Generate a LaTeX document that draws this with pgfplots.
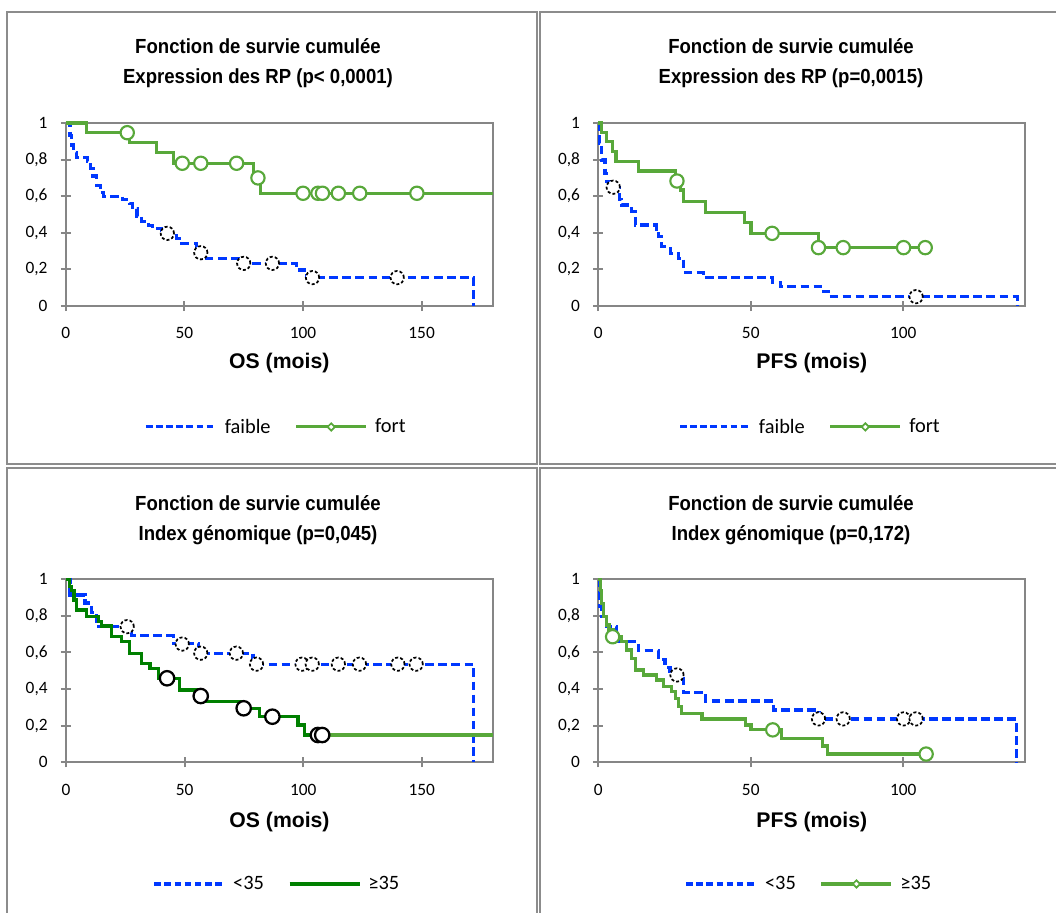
\documentclass[border=0pt]{standalone}
\usepackage{pgfplots}
\pgfplotsset{compat=1.18}
\usetikzlibrary{shapes.geometric}
\usepackage{fontspec}
\setmainfont{Carlito}
\newfontfamily\titlefont[FakeStretch=0.91]{Liberation Sans}
\newfontfamily\arialfont{Liberation Sans}
\definecolor{axgray}{RGB}{134,134,134}
\definecolor{bordergray}{RGB}{140,140,140}
\definecolor{blueC}{RGB}{0,56,255}
\definecolor{greenC}{RGB}{88,168,58}
\definecolor{dgreenC}{RGB}{0,128,0}

\pgfplotsset{
  km/.style={
    scale only axis, width=320.25pt, height=137.25pt,
    xmin=0, ymin=0, ymax=1,
    ytick={0,0.2,0.4,0.6,0.8,1},
    axis line style={draw=axgray, line width=1.5pt},
    every tick/.style={draw=axgray, line width=1.5pt},
    major tick length=7.5pt, tick align=center, tick pos=left,
    clip=false,
    /pgf/number format/use comma,
    /pgf/number format/fixed,
    /pgf/number format/assume math mode=true,
    tick label style={font=\fontsize{13}{15}\selectfont},
    yticklabel style={xshift=-6.5pt},
    xticklabel style={yshift=-9pt},
    xlabel style={font=\arialfont\bfseries\fontsize{15.9}{18}\selectfont, anchor=center},
    legend columns=2,
    legend style={draw=none, fill=none, font=\fontsize{15.3}{18}\selectfont, anchor=center,
      /tikz/every even column/.append style={column sep=16pt}},
  },
  bluestep/.style={const plot, blueC, line width=2.4pt, dash pattern=on 6.5pt off 3.3pt,
    legend image code/.code={\draw[##1, dash pattern=on 5pt off 2.6pt, line width=2.3pt] (0pt,0pt)--(52.5pt,0pt); \path (56pt,0pt);}},
  greenstep/.style={const plot, greenC, line width=2.4pt,
    legend image code/.code={\draw[##1, line width=2.3pt] (0pt,0pt)--(52.5pt,0pt);
      \node[diamond, draw=greenC, fill=white, line width=1.3pt, inner sep=0pt, minimum width=6pt, minimum height=6pt, solid] at (26.25pt,0pt) {}; \path (56pt,0pt);}},
  dgreenstep/.style={const plot, dgreenC, line width=2.4pt,
    legend image code/.code={\draw[##1, line width=2.3pt] (0pt,0pt)--(52.5pt,0pt); \path (56pt,0pt);}},
  bluecens/.style={only marks, mark=*, mark size=5pt, forget plot,
    mark options={draw=black, fill=white, line width=1.3pt, dash pattern=on 2.2pt off 1.6pt}},
  greencens/.style={only marks, mark=*, mark size=5pt, forget plot,
    mark options={draw=greenC, fill=white, line width=1.6pt, solid}},
  blackcens/.style={only marks, mark=*, mark size=5.4pt, forget plot,
    mark options={draw=black, fill=white, line width=1.7pt, solid}},
}

\begin{document}
\begin{tikzpicture}
\useasboundingbox (0pt,0pt) rectangle (792pt,-684.75pt);
\clip (0pt,0pt) rectangle (792pt,-684.75pt);

% panel borders
\draw[bordergray, line width=1.5pt] (5.5pt,-8.8pt) rectangle (402.5pt,-348.2pt);
\draw[bordergray, line width=1.5pt] (405pt,-8.8pt) rectangle (795pt,-348.2pt);
\draw[bordergray, line width=1.5pt] (5.5pt,-350.8pt) rectangle (402.5pt,-690pt);
\draw[bordergray, line width=1.5pt] (405pt,-350.8pt) rectangle (795pt,-690pt);

% ---------- top left ----------
\begin{axis}[km, at={(49.35pt,-229.5pt)}, anchor=south west,
  xmax=180, xtick={0,50,100,150},
  xlabel={OS (mois)}, xlabel style={at={(axis description cs:0.5,-0.312)}},
  legend style={at={(0.493,-0.661)}}]
\addplot[bluestep] coordinates {(0,1)(1.8,0.93)(2.5,0.88)(3.2,0.84)(4.5,0.81)(9,0.79)(10.5,0.75)(11.5,0.71)(13,0.66)(14.5,0.62)(16,0.60)(24,0.58)(27,0.56)(28,0.53)(30,0.49)(32,0.46)(35,0.44)(36.5,0.424)(40.4,0.397)(46.7,0.37)(48.8,0.343)(55,0.32)(57,0.29)(59.3,0.26)(73.4,0.233)(97.2,0.197)(101.5,0.155)(171.9,0)};
\addlegendentry{faible}
\addplot[greenstep] coordinates {(0,1)(8.8,0.947)(26.8,0.892)(38.3,0.838)(45.3,0.78)(79,0.70)(82,0.616)(180,0.616)};
\addlegendentry{fort}
\addplot[bluecens] coordinates {(42.8,0.397)(56.9,0.291)(75,0.233)(87.1,0.233)(104,0.155)(139.7,0.155)};
\addplot[greencens] coordinates {(25.9,0.947)(49.1,0.78)(56.9,0.78)(72,0.78)(81,0.70)(100,0.616)(106.3,0.616)(108.2,0.616)(114.9,0.616)(123.9,0.616)(148,0.616)};
\end{axis}

% ---------- top right ----------
\begin{axis}[km, at={(448.7pt,-229.5pt)}, anchor=south west,
  xmax=140, xtick={0,50,100},
  xlabel={PFS (mois)}, xlabel style={at={(axis description cs:0.5,-0.312)}},
  legend style={at={(0.497,-0.661)}}]
\addplot[bluestep] coordinates {(0,1)(0.3,0.889)(1.1,0.798)(2.2,0.725)(2.8,0.679)(3.5,0.649)(6.9,0.583)(7.7,0.552)(11,0.515)(12.1,0.443)(19.2,0.419)(19.8,0.38)(20.8,0.324)(23.6,0.288)(26.3,0.26)(28,0.182)(34.5,0.155)(57,0.13)(59.8,0.106)(72.9,0.08)(75.6,0.051)(137.4,0)};
\addlegendentry{faible}
\addplot[greenstep] coordinates {(0,1)(1.1,0.947)(2.8,0.898)(4.7,0.843)(5.8,0.789)(13.2,0.738)(25.2,0.683)(26.9,0.634)(28,0.57)(35.1,0.512)(48,0.455)(50.1,0.397)(72.2,0.319)(107.2,0.319)};
\addlegendentry{fort}
\addplot[bluecens] coordinates {(4.9,0.649)(104.2,0.051)};
\addplot[greencens] coordinates {(25.8,0.683)(57,0.397)(72.2,0.319)(80.3,0.319)(100.1,0.319)(107.2,0.319)};
\end{axis}

% ---------- bottom left ----------
\begin{axis}[km, at={(49.5pt,-571.7pt)}, anchor=south west,
  xmax=180, xtick={0,50,100,150},
  xlabel={OS (mois)}, xlabel style={at={(axis description cs:0.5,-0.327)}},
  legend style={at={(0.495,-0.665)}}]
\addplot[bluestep] coordinates {(0,1)(1.7,0.914)(8,0.87)(10.8,0.82)(12.9,0.741)(27.6,0.692)(45.2,0.65)(55.7,0.596)(78.8,0.536)(171.7,0)};
\addlegendentry{<35}
\addplot[dgreenstep] coordinates {(0,1)(1.5,0.96)(2.4,0.94)(3.4,0.887)(4.5,0.832)(8.7,0.796)(13.6,0.768)(15,0.745)(19.2,0.686)(23.4,0.659)(26.9,0.596)(31.9,0.541)(35.4,0.514)(38.9,0.459)(48,0.395)(56.5,0.362)(57.8,0.331)(73.9,0.295)(81.7,0.249)(97.8,0.204)(100.6,0.149)(108,0.149)};
\addlegendentry{≥35}
\addplot[greenC, line width=2.4pt, forget plot] coordinates {(108,0.149)(180,0.149)};
\addplot[bluecens] coordinates {(25.8,0.741)(49,0.646)(56.8,0.596)(71.8,0.596)(80.3,0.536)(99.5,0.536)(103.8,0.536)(114.8,0.536)(123.7,0.536)(139.9,0.536)(147.6,0.536)};
\addplot[blackcens] coordinates {(42.6,0.459)(56.8,0.362)(74.9,0.295)(87,0.249)(106.2,0.149)(108,0.149)};
\end{axis}

% ---------- bottom right ----------
\begin{axis}[km, at={(448.7pt,-571.7pt)}, anchor=south west,
  xmax=140, xtick={0,50,100},
  xlabel={PFS (mois)}, xlabel style={at={(axis description cs:0.5,-0.327)}},
  legend style={at={(0.494,-0.665)}}]
\addplot[bluestep] coordinates {(0,1)(0.3,0.85)(1.1,0.796)(2.8,0.741)(5.9,0.659)(13.2,0.61)(19.7,0.563)(21.9,0.519)(23.5,0.477)(28,0.383)(35.1,0.335)(57.4,0.286)(72.4,0.237)(137.1,0)};
\addlegendentry{<35}
\addplot[greenstep] coordinates {(0,1)(0.6,0.94)(1.1,0.869)(1.6,0.796)(2.8,0.75)(3.5,0.723)(4.9,0.686)(7.7,0.659)(9.3,0.614)(11,0.568)(12.1,0.504)(14.8,0.477)(19.2,0.45)(21.4,0.413)(24.1,0.386)(25.2,0.35)(26.3,0.304)(27.4,0.268)(34,0.237)(48.2,0.204)(50.1,0.177)(60.1,0.131)(73.5,0.089)(75.1,0.045)(107.5,0.045)};
\addlegendentry{≥35}
\addplot[bluecens] coordinates {(25.8,0.477)(72.2,0.237)(80.3,0.237)(100.1,0.237)(104.2,0.237)};
\addplot[greencens] coordinates {(4.7,0.686)(57.2,0.177)(107.5,0.045)};
\end{axis}

% titles
\begin{scope}[every node/.style={font=\titlefont\bfseries\fontsize{15.3}{18}\selectfont, anchor=base, inner sep=0pt}]
\node at (193.5pt,-40.5pt) {Fonction de survie cumulée};
\node at (193.5pt,-63pt) {Expression des RP (p< 0,0001)};
\node at (593.25pt,-40.5pt) {Fonction de survie cumulée};
\node at (593.25pt,-63pt) {Expression des RP (p=0,0015)};
\node at (193.5pt,-382.5pt) {Fonction de survie cumulée};
\node at (193.5pt,-405pt) {Index génomique (p=0,045)};
\node at (593.25pt,-382.5pt) {Fonction de survie cumulée};
\node at (593.25pt,-405pt) {Index génomique (p=0,172)};
\end{scope}
\end{tikzpicture}
\end{document}
